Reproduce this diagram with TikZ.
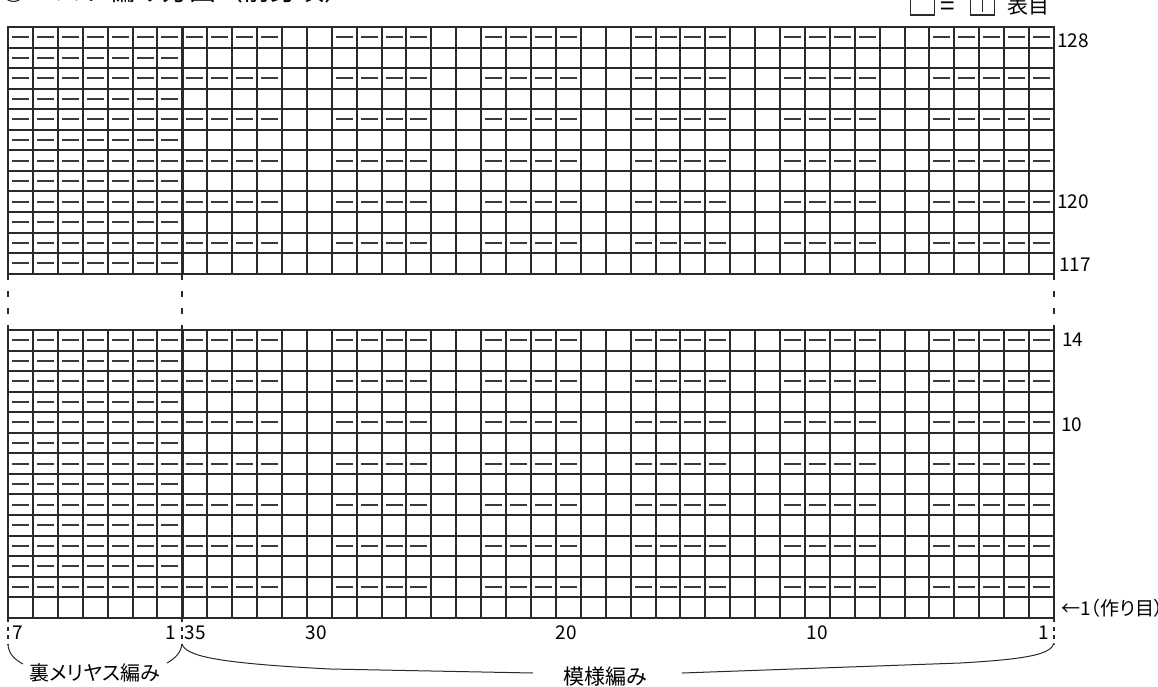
\documentclass[tikz,border=0pt]{standalone}
\usepackage{fontspec}
\setmainfont{Noto Sans CJK JP}
\newfontfamily\jpp[RawFeature=+palt]{Noto Sans CJK JP}
\definecolor{gridc}{HTML}{2A2A2A}
\definecolor{dashc}{HTML}{3A3A3A}
\begin{document}
\begin{tikzpicture}[x=1pt,y=-1pt,
  gridline/.style={draw=gridc,line width=1.6pt},
  thickline/.style={draw=gridc,line width=3pt},
  purl/.style={draw=dashc,line width=2pt},
  gapline/.style={draw=gridc,line width=1.1pt,dash pattern=on 6.4pt off 10.6pt},
  tickline/.style={draw=gridc,line width=1.1pt,dash pattern=on 4pt off 4.5pt},
  braceline/.style={draw=gridc,line width=1pt},
  lab/.style={inner sep=0pt,font=\fontsize{19}{22}\selectfont},
  jlab/.style={inner sep=0pt,font=\jpp\fontsize{19}{22}\selectfont},
  legbox/.style={draw=gridc,line width=1.1pt,minimum width=24pt,minimum height=20.5pt,inner sep=0pt,anchor=south west}]
\useasboundingbox[fill=white] (0,0) rectangle (1158,686);
\def\cw{24.905}
\def\ch{20.55}
% ---- title (cut off at top) ----
\node[inner sep=0pt,anchor=base west,font=\fontsize{27}{30}\selectfont] (title) at (0,0.8) {◎ベスト編み方図（前身頃）};
% ---- legend ----
\node[legbox] (leg1) at (910,15.5) {};
\node[inner sep=0pt,font=\fontsize{26}{28}\selectfont] (legeq) at (947.5,8.5) {=};
\node[legbox] (leg2) at (970,15.5) {};
\draw[draw=gridc,line width=1.1pt] ([yshift=6.5pt]leg2.center) -- ([yshift=-7.5pt]leg2.center);
\node[inner sep=0pt,anchor=base west,font=\fontsize{21}{24}\selectfont] (legtxt) at (1007,13) {表目};
% ---- grid: top part (rows 117-128) ----
\foreach \i in {0,...,12} {
  \pgfmathsetmacro\yy{round(27+\i*\ch)}
  \draw[gridline] (7.2,\yy) -- (1054.8,\yy);
}
\foreach \j in {0,...,42} {
  \pgfmathsetmacro\xx{round(8+\j*\cw)}
  \draw[gridline] (\xx,27) -- (\xx,274);
}
% ---- grid: bottom part (rows 1-14) ----
\foreach \i in {0,...,14} {
  \pgfmathsetmacro\yy{round(330+\i*\ch)}
  \draw[gridline] (7.2,\yy) -- (1054.8,\yy);
}
\foreach \j in {0,...,42} {
  \pgfmathsetmacro\xx{round(8+\j*\cw)}
  \draw[gridline] (\xx,330) -- (\xx,618);
}
% thick separator
\draw[thickline] (182,27) -- (182,274);
\draw[thickline] (182,330) -- (182,618);
% ---- purl marks: reverse stockinette part ----
\foreach \j in {0,...,6} {
  \pgfmathsetmacro\xx{round(8+\j*\cw)+4}
  \foreach \i in {0,...,11} {
    \pgfmathsetmacro\yy{round(27+(\i+0.5)*\ch)}
    \draw[purl] (\xx,\yy) -- ++(17,0);
  }
  \foreach \i in {0,...,12} {
    \pgfmathsetmacro\yy{round(330+(\i+0.5)*\ch)}
    \draw[purl] (\xx,\yy) -- ++(17,0);
  }
}
% ---- purl marks: pattern part ----
\foreach \k in {0,...,34} {
  \pgfmathtruncatemacro\m{mod(\k,6)}
  \ifnum\m<4 \def\isd{1}\else\ifnum\k=34 \def\isd{1}\else\def\isd{0}\fi\fi
  \ifnum\isd=1
    \pgfmathsetmacro\xx{round(8+(7+\k)*\cw)+4}
    \foreach \i in {0,2,...,10} {
      \pgfmathsetmacro\yy{round(27+(\i+0.5)*\ch)}
      \draw[purl] (\xx,\yy) -- ++(17,0);
    }
    \foreach \i in {0,2,...,12} {
      \pgfmathsetmacro\yy{round(330+(\i+0.5)*\ch)}
      \draw[purl] (\xx,\yy) -- ++(17,0);
    }
  \fi
}
% ---- gap dashed lines ----
\foreach \x in {8,182,1054} \draw[gapline] (\x,274) -- (\x,330);
% ---- ticks below ----
\foreach \x in {8,182,1054} \draw[tickline] (\x,618) -- (\x,645);
% ---- row labels ----
\node[lab,anchor=west] (r128) at (1057,41) {128};
\node[lab,anchor=west] (r120) at (1057,202) {120};
\node[lab,anchor=west] (r117) at (1059,265) {117};
\node[lab,anchor=west] (r14) at (1062,340) {14};
\node[lab,anchor=west] (r10) at (1061,425) {10};
\node[jlab,anchor=west] (r1) at (1061,608) {←1（作り目）};
% ---- column labels ----
\node[lab] (c7) at (17.5,633) {7};
\node[lab] (cl1) at (170.5,633) {1};
\node[lab] (c35) at (195,633) {35};
\node[lab] (c30) at (316,633) {30};
\node[lab] (c20) at (566,633) {20};
\node[lab] (c10) at (817.5,633) {10};
\node[lab] (cr1) at (1043.5,633) {1};
% ---- braces ----
\node[inner sep=0pt,font=\jpp\fontsize{20}{24}\selectfont] (ura) at (95,673) {裏メリヤス編み};
\draw[braceline] (8,645) .. controls (9,654) and (14,659) .. (23,664);
\draw[braceline] (167,663) .. controls (176,658) and (181,652) .. (182,644);
\node[inner sep=0pt,font=\jpp\fontsize{21}{24}\selectfont] (moyo) at (605,677) {模様編み};
\draw[braceline] (182,644) .. controls (186,656) and (215,663) .. (330,669) -- (533,673);
\draw[braceline] (682,673) -- (960,663) .. controls (1030,659) and (1051,654) .. (1054,643);
\end{tikzpicture}
\end{document}
